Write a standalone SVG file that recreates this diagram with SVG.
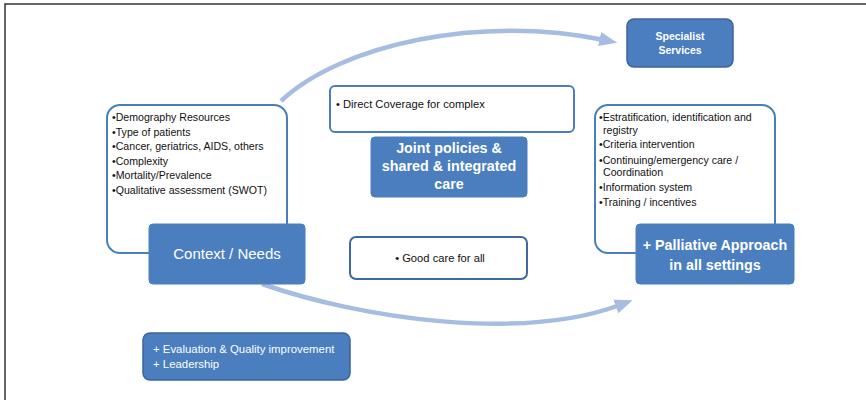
<svg xmlns="http://www.w3.org/2000/svg" width="866" height="400" viewBox="0 0 866 400">
<style>
.frame{fill:none;stroke:#333;stroke-width:1.5}
.wbox{fill:#fff;stroke:#4a7ebb;stroke-width:2}
.gbox{fill:#fff;stroke:#3e6a9c;stroke-width:2}
.bbox{fill:#4a7ebf;stroke:#4a7ebf;stroke-width:1}
.dbox{fill:#4a7ebf;stroke:#3b659a;stroke-width:1.5}
.t{font-family:"Liberation Sans","DejaVu Sans",sans-serif;font-size:10.6px;fill:#111}
.wt{font-family:"Liberation Sans","DejaVu Sans",sans-serif;fill:#fff}
.b{font-weight:bold}
.arc{fill:none;stroke:#a6bce0;stroke-width:4.5;stroke-linecap:butt}
</style>
<defs>
<marker id="ah" markerWidth="4" markerHeight="4" refX="1" refY="2" orient="auto" markerUnits="strokeWidth">
<path d="M0,0.4 L4,2 L0,3.6 Z" fill="#a6bce0"/>
</marker>
</defs>
<rect class="frame" x="5" y="4" width="870" height="410"/>
<g id="connectors">
<path class="arc" d="M281,101 C340,45 480,14 604,40" marker-end="url(#ah)"/>
<path class="arc" d="M262,284 C360,318 520,342 620,305" marker-end="url(#ah)"/>
</g>
<g id="context-list">
<rect class="wbox" x="107" y="105" width="180" height="148" rx="13"/>
<text class="t" x="112" y="121">•Demography Resources</text>
<text class="t" x="112" y="136">•Type of patients</text>
<text class="t" x="112" y="150">•Cancer, geriatrics, AIDS, others</text>
<text class="t" x="112" y="165">•Complexity</text>
<text class="t" x="112" y="179">•Mortality/Prevalence</text>
<text class="t" x="112" y="194">•Qualitative assessment (SWOT)</text>
</g>
<g id="context-needs">
<rect class="bbox" x="149" y="224" width="156" height="60" rx="4"/>
<text class="wt" x="227" y="259" font-size="15" text-anchor="middle">Context / Needs</text>
</g>
<g id="direct-coverage">
<rect class="wbox" x="330" y="86" width="244" height="46" rx="5"/>
<text class="t" x="336" y="108" style="font-size:11.2px">• Direct Coverage for complex</text>
</g>
<g id="joint-policies">
<rect class="bbox" x="371" y="137" width="156" height="60" rx="4"/>
<text class="wt b" x="449" y="153" font-size="14.3" text-anchor="middle">Joint policies &amp;</text>
<text class="wt b" x="449" y="171" font-size="14.3" text-anchor="middle">shared &amp; integrated</text>
<text class="wt b" x="449" y="189" font-size="14.3" text-anchor="middle">care</text>
</g>
<g id="good-care">
<rect class="gbox" x="350" y="237" width="177" height="42" rx="6"/>
<text class="t" x="440" y="262" text-anchor="middle" style="font-size:11.2px">•   Good care for all</text>
</g>
<g id="palliative-list">
<rect class="wbox" x="595" y="105" width="180" height="148" rx="13"/>
<text class="t" x="599" y="121">•Estratification, identification and</text>
<text class="t" x="603" y="134">registry</text>
<text class="t" x="599" y="148">•Criteria intervention</text>
<text class="t" x="599" y="164">•Continuing/emergency care /</text>
<text class="t" x="603" y="176">Coordination</text>
<text class="t" x="599" y="191">•Information system</text>
<text class="t" x="599" y="206">•Training / incentives</text>
</g>
<g id="palliative">
<rect class="bbox" x="636" y="224" width="158" height="60" rx="4"/>
<text class="wt b" x="715" y="250" font-size="14.3" text-anchor="middle">+ Palliative Approach</text>
<text class="wt b" x="715" y="270" font-size="14.3" text-anchor="middle">in all settings</text>
</g>
<g id="specialist">
<rect class="dbox" x="627" y="19" width="106" height="48" rx="7"/>
<text class="wt b" x="680" y="40" font-size="10.5" text-anchor="middle">Specialist</text>
<text class="wt b" x="680" y="54" font-size="10.5" text-anchor="middle">Services</text>
</g>
<g id="evaluation">
<rect class="dbox" x="143" y="333" width="207" height="47" rx="7"/>
<text class="wt" x="153" y="353" font-size="11.4">+ Evaluation &amp; Quality improvement</text>
<text class="wt" x="153" y="368" font-size="11.4">+ Leadership</text>
</g>
</svg>
